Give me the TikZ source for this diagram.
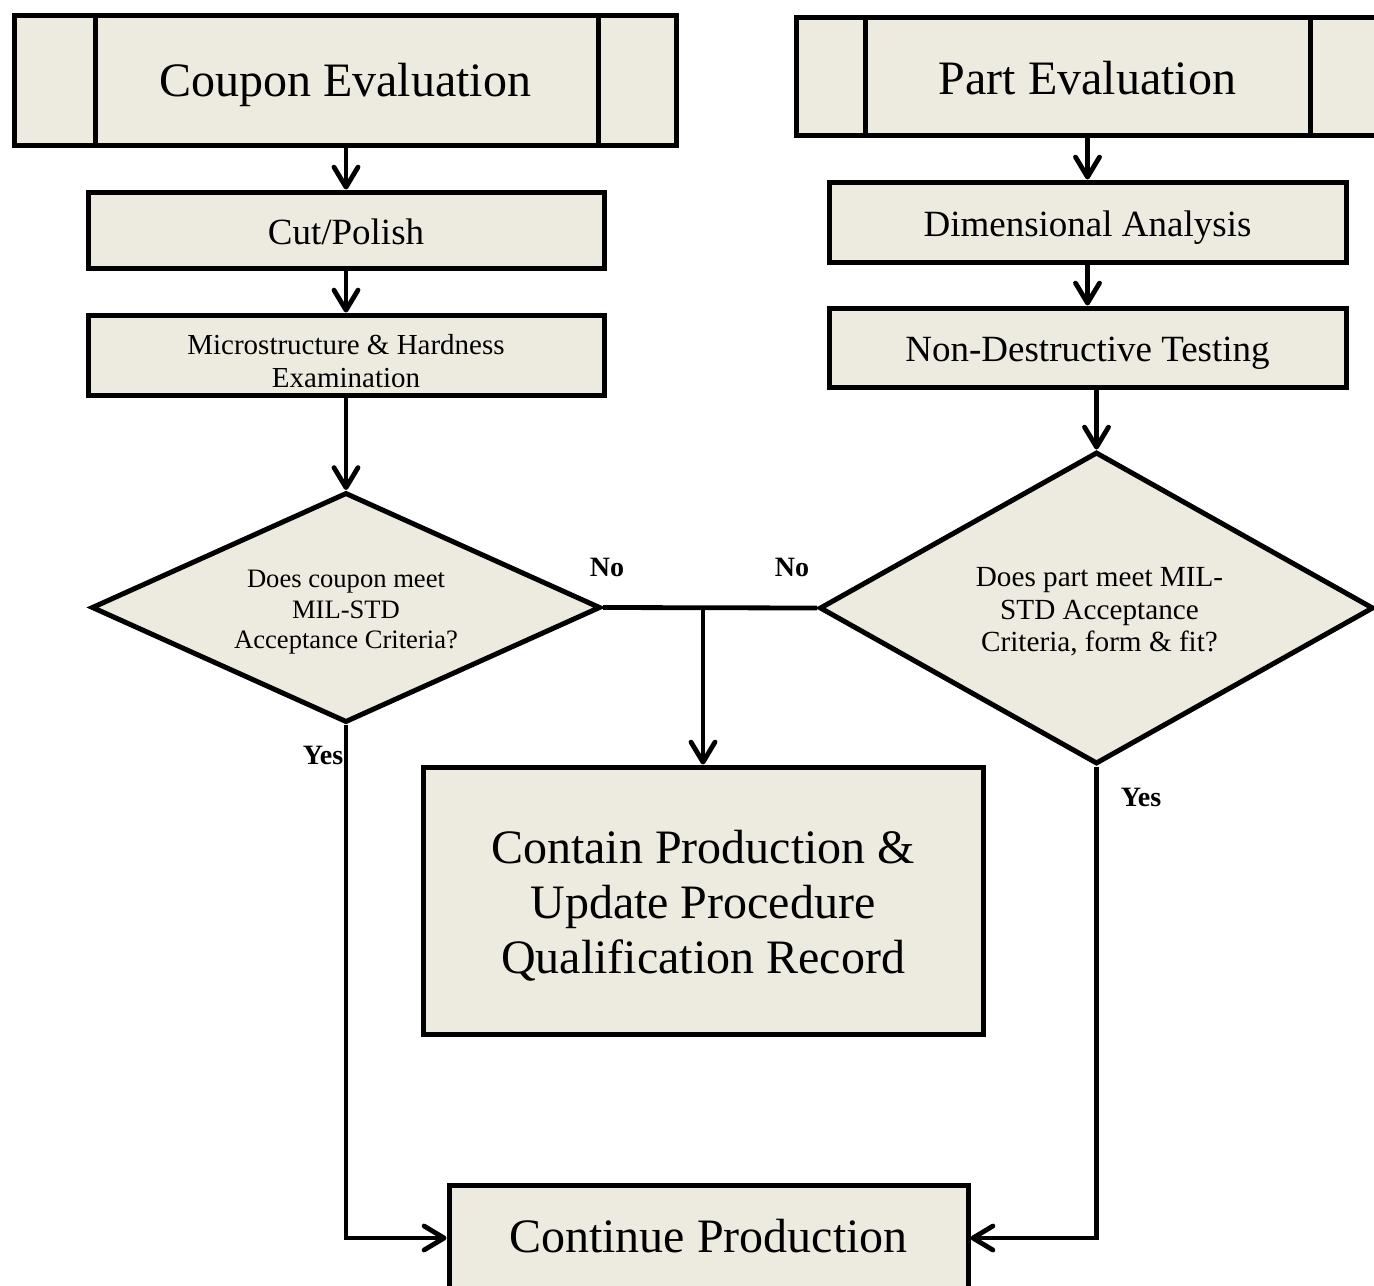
\documentclass[tikz,border=0pt]{standalone}
\usepackage{fontspec}
\setmainfont{Liberation Serif}
\usetikzlibrary{arrows.meta,shapes.geometric,calc}
\definecolor{boxfill}{RGB}{237,235,224}
\begin{document}
\begin{tikzpicture}[x=0.5pt,y=-0.5pt,
  box/.style={draw=black,fill=boxfill,line width=2.5pt,inner sep=0pt,align=center,text=black,text depth=0pt},
  predef/.style 2 args={box,path picture={
      \draw[line width=2.5pt]
        ([xshift=#1]path picture bounding box.north west) -- ([xshift=#1]path picture bounding box.south west)
        ([xshift=-#2]path picture bounding box.north east) -- ([xshift=-#2]path picture bounding box.south east);}},
  dec/.style={shape=diamond,draw=black,fill=boxfill,line width=2.5pt,inner sep=0pt,miter limit=10},
  words/.style={align=center,inner sep=0pt,text=black},
  link/.style={line width=2.4pt},
  conn/.style={link,-{Straight Barb[length=10pt,width=12pt,line cap=round,line join=round]}},
  lbl/.style={font=\fontsize{14}{16}\selectfont\bfseries,inner sep=0pt}]
\useasboundingbox (0,0) rectangle (1374,1285);
\clip (0,0) rectangle (1374,1285);

% left column: coupon route
\node[predef={40.5pt}{39pt},minimum width=331pt,minimum height=65pt,text height=16pt,
      font=\fontsize{24}{28}\selectfont] (coupon) at (345,80) {Coupon Evaluation};
\node[box,minimum width=258pt,minimum height=38pt,text height=14.2pt,
      font=\fontsize{18.5}{21}\selectfont] (cut) at (346,230) {Cut/Polish};
\node[box,minimum width=258pt,minimum height=40pt] (micro) at (346,355) {};
\begin{scope}
  \clip ([shift={(2.5pt,-2.5pt)}]micro.north west) rectangle ([shift={(-2.5pt,2.5pt)}]micro.south east);
  \node[words,font=\fontsize{14.5}{16.5}\selectfont] (microtxt) at (346,361)
    {Microstructure \& Hardness\\Examination};
\end{scope}
\node[dec,minimum width=254.5pt,minimum height=115pt] (ldia) at (346,607.5) {};
\node[words,font=\fontsize{13.3}{15.25}\selectfont] (ldiatxt) at (346,612.5)
  {Does coupon meet\\MIL-STD\\Acceptance Criteria?};

% right column: part route
\node[predef={34.5pt}{34.5pt},minimum width=291.5pt,minimum height=59pt,text height=18.4pt,
      font=\fontsize{24}{28}\selectfont] (part) at (1087.5,76) {Part Evaluation};
\node[box,minimum width=258.5pt,minimum height=40pt,text height=14.2pt,
      font=\fontsize{18.5}{21}\selectfont] (dim) at (1087.5,222) {Dimensional Analysis};
\node[box,minimum width=258.5pt,minimum height=39.5pt,text height=13.7pt,
      font=\fontsize{18.5}{21}\selectfont] (ndt) at (1087.5,347.5) {Non-Destructive Testing};
\node[dec,minimum width=277pt,minimum height=156pt] (rdia) at (1096.5,608) {};
\node[words,font=\fontsize{14.6}{16.25}\selectfont] (rdiatxt) at (1099.5,612)
  {Does part meet MIL-\\STD Acceptance\\Criteria, form \& fit?};

% outcomes
\node[box,minimum width=280pt,minimum height=133.5pt] (contain) at (703,900.5) {};
\node[words,font=\fontsize{24}{27.5}\selectfont] (containtxt) at (703,905.5)
  {Contain Production \&\\Update Procedure\\Qualification Record};
\node[box,minimum width=259.5pt,minimum height=53pt,text height=14.6pt,
      font=\fontsize{24}{28}\selectfont] (cont) at (708.5,1238) {Continue Production};

% branch labels
\node[lbl] (no1) at (607,567) {No};
\node[lbl] (no2) at (792,567) {No};
\node[lbl] (yes1) at (323,755) {Yes};
\node[lbl] (yes2) at (1141,797) {Yes};

% connectors
\draw[conn] (coupon.south -| cut.north) -- (cut.north);
\draw[conn] (cut.south) -- (micro.north);
\draw[conn] (micro.south) -- (ldia.north);
\draw[conn] (part.south -| dim.north) -- (dim.north);
\draw[conn] (dim.south) -- (ndt.north);
\draw[conn] (ndt.south -| rdia.north) -- (rdia.north);
\draw[link] (ldia.east) -- (rdia.west);
\draw[conn] (ldia.east -| contain.north) -- (contain.north);
\draw[conn] (ldia.south) |- (cont.west);
\draw[conn] (rdia.south) |- (cont.east);
\end{tikzpicture}
\end{document}
